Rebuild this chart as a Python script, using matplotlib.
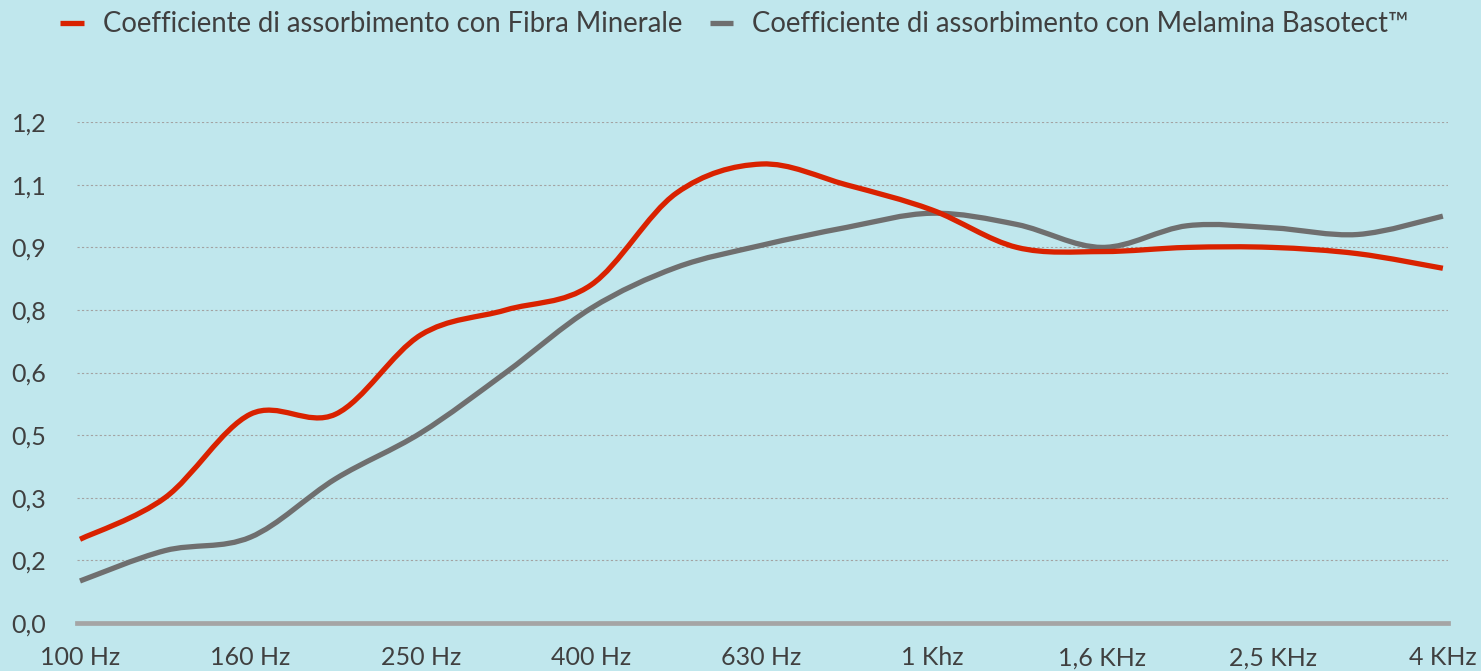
import matplotlib
matplotlib.use("Agg")
import matplotlib.pyplot as plt
import numpy as np
from matplotlib.path import Path
from matplotlib.patches import PathPatch
from matplotlib.lines import Line2D

# bande di terzo d'ottava 100 Hz - 4 KHz
bande = ["100", "125", "160", "200", "250", "315", "400", "500", "630",
         "800", "1000", "1250", "1600", "2000", "2500", "3150", "4000"]
fibra_minerale = [0.20, 0.30, 0.50, 0.50, 0.69, 0.75, 0.81, 1.03, 1.10,
                  1.05, 0.99, 0.90, 0.89, 0.90, 0.90, 0.885, 0.85]
melamina = [0.10, 0.173, 0.205, 0.345, 0.455, 0.60, 0.754, 0.852, 0.905,
            0.948, 0.982, 0.955, 0.90, 0.952, 0.947, 0.931, 0.975]
etichette_x = ["100 Hz", "160 Hz", "250 Hz", "400 Hz", "630 Hz", "1 Khz",
               "1,6 KHz", "2,5 KHz", "4 KHz"]
valori_y = [0.0, 0.15, 0.30, 0.45, 0.60, 0.75, 0.90, 1.05, 1.20]
etichette_y = ["0,0", "0,2", "0,3", "0,5", "0,6", "0,8", "0,9", "1,1", "1,2"]
nomi = ["Coefficiente di assorbimento con Fibra Minerale",
        "Coefficiente di assorbimento con Melamina Basotect™"]

sfondo = "#c0e7ed"
rosso = "#d92200"
grigio = "#6f6f6f"
testo = "#404040"

plt.rcParams['font.family'] = ['Lato', 'DejaVu Sans']


def curva_smussata(x, y):
    # spline tipo Excel (Catmull-Rom -> Bezier)
    n = len(x)
    verts = [(x[0], y[0])]
    codes = [Path.MOVETO]
    for i in range(n - 1):
        xp, yp = (x[i - 1], y[i - 1]) if i > 0 else (x[i], y[i])
        xn, yn = (x[i + 2], y[i + 2]) if i + 2 < n else (x[i + 1], y[i + 1])
        c1 = (x[i] + (x[i + 1] - xp) / 6, y[i] + (y[i + 1] - yp) / 6)
        c2 = (x[i + 1] - (xn - x[i]) / 6, y[i + 1] - (yn - y[i]) / 6)
        verts += [c1, c2, (x[i + 1], y[i + 1])]
        codes += [Path.CURVE4] * 3
    return Path(verts, codes)


fig = plt.figure(figsize=(14.81, 6.71), dpi=100)
fig.patch.set_facecolor(sfondo)
ax = fig.add_axes([0.052, 0.072, 0.9257, 0.7457])
ax.set_facecolor(sfondo)

x = np.arange(len(bande))
ax.add_patch(PathPatch(curva_smussata(x, melamina), fill=False,
                       edgecolor=grigio, lw=3.8, capstyle='butt', zorder=3))
ax.add_patch(PathPatch(curva_smussata(x, fibra_minerale), fill=False,
                       edgecolor=rosso, lw=3.8, capstyle='butt', zorder=4))

ax.set_xlim(-0.035, 16.06)
ax.set_ylim(0, 1.2)

ax.set_yticks(valori_y)
ax.set_yticklabels(etichette_y)
ax.set_xticks(x[::2])
ax.set_xticklabels(etichette_x)
ax.tick_params(axis='both', length=0, labelsize=18, labelcolor=testo)
ax.tick_params(axis='y', pad=22)
ax.tick_params(axis='x', pad=17)

ax.grid(axis='y', color='#a3a3a3', lw=0.8, linestyle=(0, (2, 2)))
ax.set_axisbelow(True)
for s in ['top', 'right', 'left']:
    ax.spines[s].set_visible(False)
ax.spines['bottom'].set_color('#a5a5a5')
ax.spines['bottom'].set_linewidth(3.4)
ax.spines['bottom'].set_zorder(2)

handles = [Line2D([], [], color=rosso, lw=3.8, solid_capstyle='butt'),
           Line2D([], [], color=grigio, lw=3.8, solid_capstyle='butt')]
fig.legend(handles, nomi, loc='center', bbox_to_anchor=(0.496, 0.964), ncol=2,
           frameon=False, fontsize=19.8, labelcolor=testo, handlelength=0.85,
           handletextpad=0.7, columnspacing=1.0)

fig.savefig("out.png", dpi=100, facecolor=sfondo)
